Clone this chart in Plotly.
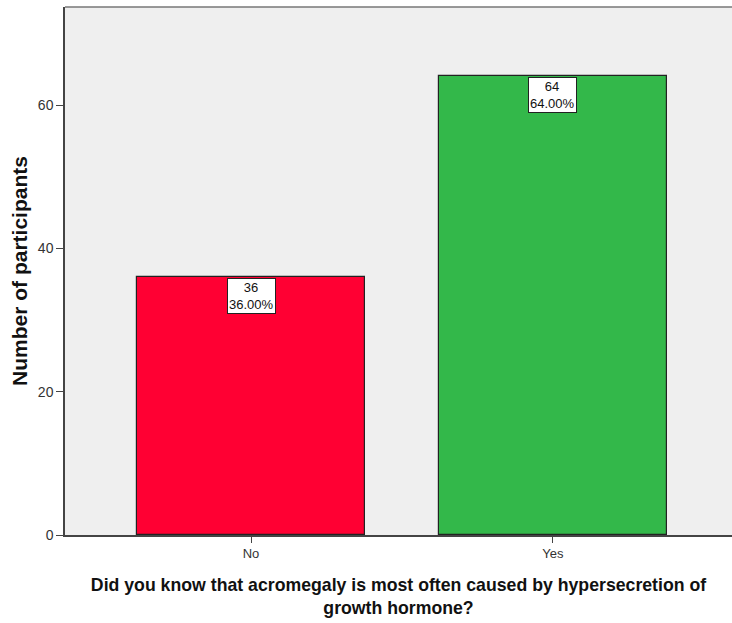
import plotly.graph_objects as go

# Survey responses
categories = ["No", "Yes"]
counts = [36, 64]
percents = [36.00, 64.00]
bar_colors = ["#FF0033", "#33B84A"]

fig = go.Figure()
fig.add_trace(go.Bar(
    x=categories,
    y=counts,
    width=0.755,
    marker=dict(color=bar_colors, line=dict(color="#222222", width=1.2)),
    hoverinfo="skip",
))

# Count / percent labels boxed at the top of each bar
for cat, n, p in zip(categories, counts, percents):
    fig.add_annotation(
        x=cat, y=n, xref="x", yref="y",
        text=f"{n}<br>{p:.2f}%",
        showarrow=False,
        yanchor="top",
        yshift=-1,
        font=dict(family="Liberation Sans, Arial", size=13, color="#111111"),
        bgcolor="white",
        bordercolor="#222222",
        borderwidth=1,
        borderpad=1,
    )

# Open right edge: paint the plot background over the edge stroke
fig.add_shape(
    type="rect", xref="paper", yref="paper", layer="above",
    x0=0.994, x1=1.0, y0=0.002, y1=0.998,
    line=dict(width=0), fillcolor="#EFEFEF",
)

# Top frame line of the plot area
fig.add_shape(
    type="line", xref="paper", yref="paper",
    x0=0, x1=1, y0=1, y1=1,
    line=dict(color="#777777", width=1.5),
)

fig.update_layout(
    width=732, height=623,
    margin=dict(l=65, r=0, t=7, b=88, pad=0),
    paper_bgcolor="white",
    plot_bgcolor="#EFEFEF",
    showlegend=False,
    font=dict(family="Liberation Sans, Arial", size=13, color="#333333"),
    bargap=0,
)

fig.update_xaxes(
    range=[-0.616, 1.593],
    showline=True, linecolor="#444444", linewidth=1.5, mirror=False,
    ticks="outside", ticklen=6, tickcolor="#444444",
    tickfont=dict(size=13, color="#333333"),
    showgrid=False, zeroline=False,
    title=dict(
        text="<b>Did you know that acromegaly is most often caused by hypersecretion of<br>growth hormone?</b>",
        font=dict(family="Liberation Sans, Arial", size=17.7, color="#111111"),
        standoff=18,
    ),
)

fig.update_yaxes(
    range=[0, 73.7],
    tickvals=[0, 20, 40, 60],
    showline=True, linecolor="#444444", linewidth=1.5, mirror=False,
    ticks="outside", ticklen=7, tickcolor="#444444",
    tickfont=dict(size=14, color="#333333"),
    showgrid=False, zeroline=False,
    title=dict(
        text="<b>Number of participants</b>",
        font=dict(family="Liberation Sans, Arial", size=21, color="#111111"),
        standoff=5,
    ),
)

fig.write_html("out.html", config={"displayModeBar": False})
